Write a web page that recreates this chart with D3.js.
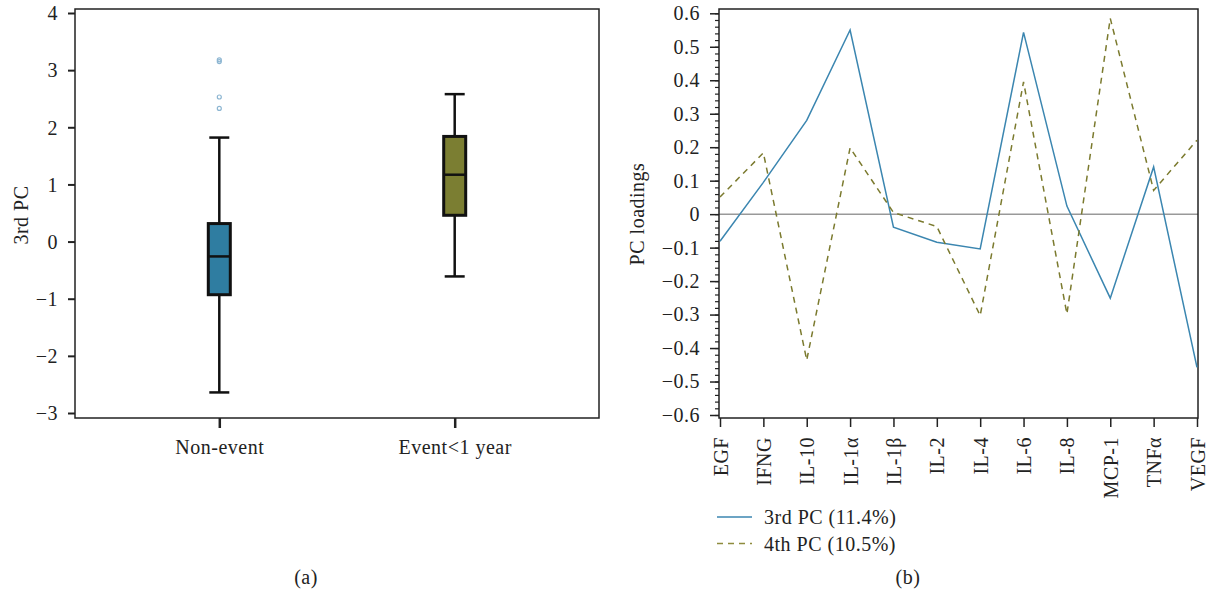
<!DOCTYPE html>
<html>
<head>
<meta charset="utf-8">
<script src="https://cdn.jsdelivr.net/npm/d3@7"></script>
<style>
  body { margin: 0; background: #fff; }
  svg text { font-family: "Liberation Serif", serif; fill: #222; font-size: 20px; letter-spacing: 0.5px; }
</style>
</head>
<body>
<script>
var W = 1210, H = 598;

// panel (a) box summaries
var groups = ["Non-event", "Event<1 year"];
var boxLow = [-2.64, -0.61];
var boxQ1 = [-0.93, 0.46];
var boxMed = [-0.26, 1.17];
var boxQ3 = [0.315, 1.84];
var boxHigh = [1.82, 2.58];
var boxFill = ["#2f7da1", "#7b7e32"];
var outliers = [[3.15, 3.18, 2.53, 2.33], []];
var leftTicks = [-3, -2, -1, 0, 1, 2, 3, 4];

// panel (b) loadings
var cytokines = ["EGF", "IFNG", "IL-10", "IL-1\u03b1", "IL-1\u03b2", "IL-2", "IL-4", "IL-6", "IL-8", "MCP-1", "TNF\u03b1", "VEGF"];
var pc3 = [-0.081, 0.095, 0.28, 0.55, -0.039, -0.084, -0.104, 0.543, 0.024, -0.251, 0.141, -0.458];
var pc4 = [0.051, 0.183, -0.436, 0.198, 0.005, -0.037, -0.303, 0.395, -0.298, 0.585, 0.071, 0.221];
var rightTicks = [-0.6, -0.5, -0.4, -0.3, -0.2, -0.1, 0, 0.1, 0.2, 0.3, 0.4, 0.5, 0.6];
var seriesNames = ["3rd PC (11.4%)", "4th PC (10.5%)"];

var svg = d3.select("body").append("svg")
    .attr("width", W)
    .attr("height", H);

function fmt(d) {
    return d < 0 ? "\u2212" + Math.abs(d) : String(d);
}

// ---------- panel (a) ----------
var a = { left: 75, right: 599, top: 9, bottom: 418 };

var ya = d3.scaleLinear().domain([-3, 4]).range([413, 13]);
var xa = d3.scalePoint().domain(groups).range([a.left, a.right]).padding(0.613);

svg.append("rect")
    .attr("x", a.left).attr("y", a.top)
    .attr("width", a.right - a.left).attr("height", a.bottom - a.top)
    .attr("fill", "none").attr("stroke", "#222").attr("stroke-width", 1.5);

var yAxisA = svg.append("g")
    .attr("transform", "translate(" + a.left + ",0)")
    .call(d3.axisLeft(ya).tickValues(leftTicks).tickSize(7).tickPadding(10).tickFormat(fmt));
yAxisA.select(".domain").remove();
yAxisA.selectAll("line").attr("stroke", "#222").attr("stroke-width", 2);
yAxisA.selectAll("text").attr("dy", "0.34em");

var xAxisA = svg.append("g")
    .attr("transform", "translate(0," + a.bottom + ")")
    .call(d3.axisBottom(xa).tickSize(10).tickPadding(12));
xAxisA.select(".domain").remove();
xAxisA.selectAll("line").attr("stroke", "#222").attr("stroke-width", 2.5);

svg.append("text")
    .attr("transform", "translate(28,215) rotate(-90)")
    .attr("text-anchor", "middle")
    .text("3rd PC");

var bw = 22, cap = 20;
groups.forEach(function (g, i) {
    var cx = xa(g);
    var box = svg.append("g");
    // whiskers
    box.append("line")
        .attr("x1", cx).attr("x2", cx)
        .attr("y1", ya(boxHigh[i])).attr("y2", ya(boxLow[i]))
        .attr("stroke", "#111").attr("stroke-width", 2.5);
    [boxHigh[i], boxLow[i]].forEach(function (v) {
        box.append("line")
            .attr("x1", cx - cap / 2).attr("x2", cx + cap / 2)
            .attr("y1", ya(v)).attr("y2", ya(v))
            .attr("stroke", "#111").attr("stroke-width", 2.5);
    });
    box.append("rect")
        .attr("x", cx - bw / 2).attr("y", ya(boxQ3[i]))
        .attr("width", bw).attr("height", ya(boxQ1[i]) - ya(boxQ3[i]))
        .attr("fill", boxFill[i]).attr("stroke", "#111").attr("stroke-width", 3);
    box.append("line")
        .attr("x1", cx - bw / 2).attr("x2", cx + bw / 2)
        .attr("y1", ya(boxMed[i])).attr("y2", ya(boxMed[i]))
        .attr("stroke", "#111").attr("stroke-width", 2.5);
    box.selectAll("circle")
        .data(outliers[i])
        .enter().append("circle")
        .attr("cx", cx).attr("cy", function (d) { return ya(d); })
        .attr("r", 2)
        .attr("fill", "none").attr("stroke", "#8db6d2").attr("stroke-width", 1.2);
});

svg.append("text")
    .attr("x", 306).attr("y", 584)
    .attr("text-anchor", "middle")
    .text("(a)");

// ---------- panel (b) ----------
var b = { left: 719, right: 1198, top: 9, bottom: 418 };

var yb = d3.scaleLinear().domain([-0.6, 0.6]).range([415, 13.3]);
var xb = d3.scalePoint().domain(cytokines).range([720, 1197]);

svg.append("line")
    .attr("x1", b.left).attr("x2", b.right)
    .attr("y1", yb(0)).attr("y2", yb(0))
    .attr("stroke", "#999").attr("stroke-width", 1.5);

svg.append("rect")
    .attr("x", b.left).attr("y", b.top)
    .attr("width", b.right - b.left).attr("height", b.bottom - b.top)
    .attr("fill", "none").attr("stroke", "#222").attr("stroke-width", 1.5);

// minor ticks every 0.02
var minor = d3.range(-30, 31).map(function (k) { return k / 50; });
var yMinor = svg.append("g")
    .attr("transform", "translate(" + b.left + ",0)")
    .call(d3.axisLeft(yb).tickValues(minor).tickSize(4).tickFormat(""));
yMinor.select(".domain").remove();
yMinor.selectAll("line").attr("stroke", "#222").attr("stroke-width", 1.2);

var yAxisB = svg.append("g")
    .attr("transform", "translate(" + b.left + ",0)")
    .call(d3.axisLeft(yb).tickValues(rightTicks).tickSize(9).tickPadding(10).tickFormat(fmt));
yAxisB.select(".domain").remove();
yAxisB.selectAll("line").attr("stroke", "#222").attr("stroke-width", 1.5);

var xAxisB = svg.append("g")
    .attr("transform", "translate(0," + b.bottom + ")")
    .call(d3.axisBottom(xb).tickSize(9).tickPadding(0));
xAxisB.select(".domain").remove();
xAxisB.selectAll("line").attr("stroke", "#222").attr("stroke-width", 1.5);
xAxisB.selectAll("text")
    .attr("text-anchor", "end")
    .attr("transform", "rotate(-90)")
    .attr("x", -19)
    .attr("y", 0)
    .attr("dy", "0.35em");

svg.append("text")
    .attr("transform", "translate(644,214) rotate(-90)")
    .attr("text-anchor", "middle")
    .text("PC loadings");

var line = d3.line()
    .x(function (d, i) { return xb(cytokines[i]); })
    .y(function (d) { return yb(d); });

svg.append("path")
    .datum(pc3)
    .attr("d", line)
    .attr("fill", "none")
    .attr("stroke", "#3b86b0")
    .attr("stroke-width", 1.5);

svg.append("path")
    .datum(pc4)
    .attr("d", line)
    .attr("fill", "none")
    .attr("stroke", "#7b7a2e")
    .attr("stroke-width", 1.5)
    .attr("stroke-dasharray", "6,5");

// legend
var legendColors = ["#3b86b0", "#8e8c3e"];
var legendDash = [null, "6,5"];
seriesNames.forEach(function (name, i) {
    var y = 517 + i * 26.5;
    svg.append("line")
        .attr("x1", 717).attr("x2", 752)
        .attr("y1", y).attr("y2", y)
        .attr("stroke", legendColors[i]).attr("stroke-width", 1.5)
        .attr("stroke-dasharray", legendDash[i]);
    svg.append("text")
        .attr("x", 764).attr("y", y + 7)
        .text(name);
});

svg.append("text")
    .attr("x", 908).attr("y", 584)
    .attr("text-anchor", "middle")
    .text("(b)");
</script>
</body>
</html>
